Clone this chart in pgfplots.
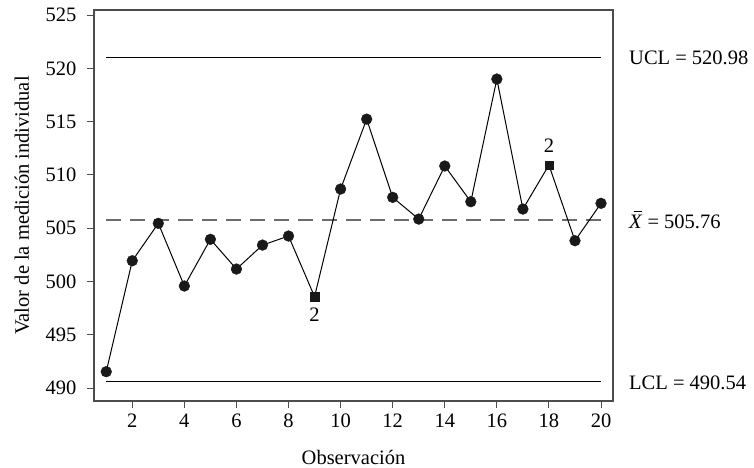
\documentclass[border=0pt]{standalone}
\usepackage{pgfplots}
\pgfplotsset{compat=1.18}
\usepackage{fontspec}
\setmainfont{Liberation Serif}
\newcommand{\fs}{\fontsize{20.5bp}{24bp}\selectfont}
\begin{document}
\begin{tikzpicture}[font=\fs]
\useasboundingbox (-94bp,-67bp) rectangle (660bp,401bp);
\begin{axis}[
  at={(0,0)}, anchor=south west,
  scale only axis, width=519bp, height=391bp,
  xmin=0.53, xmax=20.46, ymin=488.78, ymax=525.47,
  xtick={2,4,...,20}, ytick={490,495,...,525},
  tick pos=left, tick align=outside, major tick length=7bp,
  axis line style={gray!60!black, line width=1.1pt},
  every tick/.style={gray!60!black, line width=1pt},
  /pgf/number format/assume math mode=true,
  tick label style={font=\fs},
  yticklabel style={xshift=-7bp},
  xticklabel style={yshift=-2bp},
  clip=false,
]
\addplot[line width=1.4pt, dash pattern=on 15bp off 9bp, draw=gray!85!black] coordinates {(1,505.76) (20,505.76)};
\addplot[black, line width=0.9pt] coordinates {(1,520.98) (20,520.98)};
\addplot[black, line width=0.9pt] coordinates {(1,490.64) (20,490.64)};
\addplot[black, line width=1pt, mark=none] coordinates {
(1,491.53) (2,501.94) (3,505.45) (4,499.57) (5,503.95) (6,501.16) (7,503.41) (8,504.26) (9,498.57) (10,508.67)
(11,515.23) (12,507.89) (13,505.85) (14,510.83) (15,507.48) (16,518.99) (17,506.79) (18,510.92) (19,503.82) (20,507.33)};
\addplot[only marks, mark=*, mark size=5.4bp, mark options={fill=black!90, draw=black!90}] coordinates {
(1,491.53) (2,501.94) (3,505.45) (4,499.57) (5,503.95) (6,501.16) (7,503.41) (8,504.26) (10,508.67)
(11,515.23) (12,507.89) (13,505.85) (14,510.83) (15,507.48) (16,518.99) (17,506.79) (19,503.82) (20,507.33)};
\addplot[only marks, mark=square*, mark size=4.2bp, mark options={fill=black!90, draw=black!90}] coordinates {(9,498.57) (18,510.92)};
\node at ([yshift=-18bp]axis cs:9,498.57) {2};
\node at ([yshift=19bp]axis cs:18,510.92) {2};
\node[anchor=west, inner sep=0pt] at ([xshift=16bp]axis cs:20.46,520.98) {UCL = 520.98};
\node[anchor=west, inner sep=0pt] at ([xshift=16bp]axis cs:20.46,505.76) {\makebox[0pt][l]{\hspace{0.22em}\raisebox{0.78em}{\rule{0.42em}{0.05em}}}\textit{X} = 505.76};
\node[anchor=west, inner sep=0pt] at ([xshift=16bp,yshift=-2bp]axis cs:20.46,490.64) {LCL = 490.54};
\node at ([yshift=-56bp]rel axis cs:0.5,0) {Observación};
\node[rotate=90] at ([xshift=-72bp]rel axis cs:0,0.5) {Valor de la medición individual};
\end{axis}
\end{tikzpicture}
\end{document}
